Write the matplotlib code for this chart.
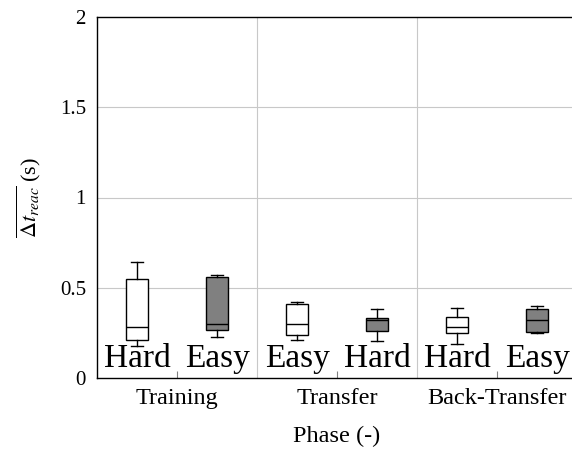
import numpy as np
import matplotlib.pyplot as plt

phases = ["Training", "Transfer", "Back-Transfer"]
left_labels = ["Hard", "Easy", "Hard"]
right_labels = ["Easy", "Hard", "Easy"]

# box stats per box: whisker low, q1, median, q3, whisker high
left_low = [0.18, 0.21, 0.19]
left_q1 = [0.21, 0.24, 0.25]
left_med = [0.28, 0.30, 0.28]
left_q3 = [0.55, 0.41, 0.34]
left_high = [0.64, 0.42, 0.39]

right_low = [0.225, 0.205, 0.25]
right_q1 = [0.265, 0.26, 0.257]
right_med = [0.30, 0.32, 0.32]
right_q3 = [0.56, 0.335, 0.38]
right_high = [0.57, 0.385, 0.40]

plt.rcParams["font.family"] = ["Liberation Serif", "DejaVu Serif"]
plt.rcParams["mathtext.fontset"] = "stix"

fig = plt.figure(figsize=(5.72, 4.55), dpi=100)
ax = fig.add_axes([97 / 572, 77 / 455, 480 / 572, 361 / 455])

def make_stats(low, q1, med, q3, high):
    return [dict(whislo=a, q1=b, med=c, q3=d, whishi=e, fliers=[])
            for a, b, c, d, e in zip(low, q1, med, q3, high)]

centers = np.arange(len(phases)) + 0.5
common = dict(widths=0.14, patch_artist=True, showfliers=False,
              medianprops=dict(color="black", lw=1),
              whiskerprops=dict(color="black", lw=1),
              capprops=dict(color="black", lw=1))
b1 = ax.bxp(make_stats(left_low, left_q1, left_med, left_q3, left_high),
            positions=centers - 0.25, boxprops=dict(facecolor="white", edgecolor="black", lw=1),
            manage_ticks=False, **common)
b2 = ax.bxp(make_stats(right_low, right_q1, right_med, right_q3, right_high),
            positions=centers + 0.25, boxprops=dict(facecolor="#808080", edgecolor="black", lw=1),
            manage_ticks=False, **common)

for c, l, r in zip(centers, left_labels, right_labels):
    ax.text(c - 0.25, 0.063, l, ha="center", va="baseline", fontsize=24)
    ax.text(c + 0.25, 0.063, r, ha="center", va="baseline", fontsize=24)

ax.set_xlim(0, 3)
ax.set_ylim(0, 2)
ax.set_xticks(centers)
ax.set_xticklabels(phases, fontsize=17.5)
ax.set_yticks([0, 0.5, 1, 1.5, 2])
ax.set_yticklabels(["0", "0.5", "1", "1.5", "2"], fontsize=15)
ax.tick_params(axis="x", direction="in", length=5, color="gray", pad=7)
ax.tick_params(axis="y", direction="in", length=0, pad=8)
for v in [1, 2]:
    ax.axvline(v, color="#c8c8c8", lw=0.8, zorder=0)
for v in [0.5, 1, 1.5]:
    ax.axhline(v, color="#c8c8c8", lw=0.8, zorder=0)
for s in ["left", "bottom", "top"]:
    ax.spines[s].set_linewidth(1)

ax.set_xlabel("Phase (-)", fontsize=17.5, labelpad=12)
ax.set_ylabel(r"$\overline{\Delta t_{reac}}$ (s)", fontsize=16, labelpad=12)

fig.savefig("out.png", dpi=100)
